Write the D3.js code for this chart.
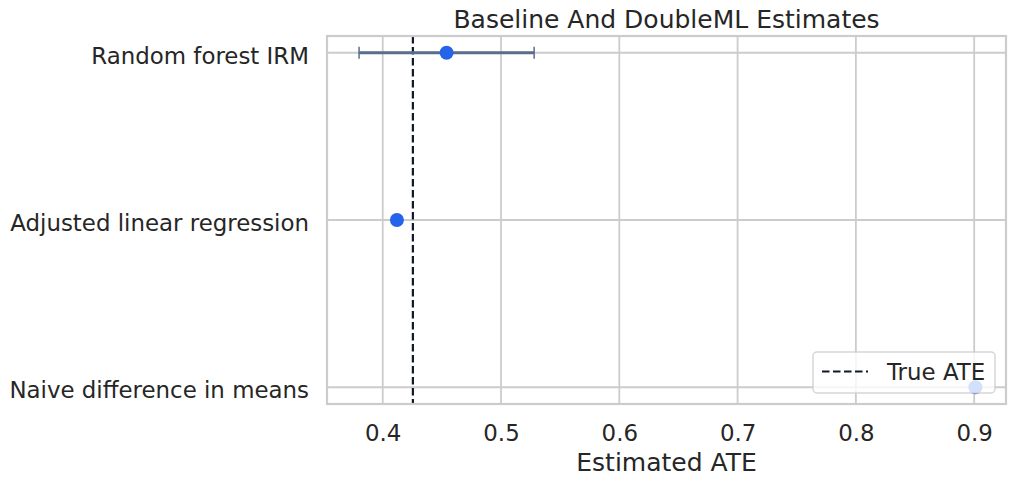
<!DOCTYPE html>
<html><head><meta charset="utf-8">
<script src="https://cdn.jsdelivr.net/npm/d3@7"></script>
<style>
html,body{margin:0;padding:0;background:#fff;}
text{font-family:"DejaVu Sans",sans-serif;fill:#262626;}
</style></head>
<body>
<svg id="chart" width="1016" height="485"></svg>
<script>
const methods = ["Random forest IRM", "Adjusted linear regression", "Naive difference in means"];
const estimates = [0.454, 0.412, 0.901];
const ciLower = [0.380, null, null];
const ciUpper = [0.528, null, null];
const trueATE = 0.4255;
const xTicks = [0.4, 0.5, 0.6, 0.7, 0.8, 0.9];
const xDomain = [0.3529, 0.9269];

const svg = d3.select("#chart");
const L = 327, R = 1006, T = 36, B = 404;
const x = d3.scaleLinear().domain(xDomain).range([L, R]);
const y = d3.scalePoint().domain(methods).range([T, B]).padding(0.1);
const grid = "#cccccc";

// gridlines
svg.append("g").selectAll("line").data(xTicks).join("line")
  .attr("x1", d => x(d)).attr("x2", d => x(d)).attr("y1", T).attr("y2", B)
  .attr("stroke", grid).attr("stroke-width", 1.8);
svg.append("g").selectAll("line").data(methods).join("line")
  .attr("x1", L).attr("x2", R).attr("y1", d => y(d)).attr("y2", d => y(d))
  .attr("stroke", grid).attr("stroke-width", 1.8);

// x axis labels via d3 axis
const xAxis = d3.axisBottom(x).tickValues(xTicks).tickFormat(d3.format(".1f")).tickSize(0).tickPadding(0);
const gx = svg.append("g").attr("transform", `translate(0,${B})`).call(xAxis);
gx.select(".domain").remove();
gx.selectAll("text").attr("dy", null).attr("y", 36.7)
  .style("font-size", "22.9px").style("font-family", "DejaVu Sans").attr("fill", "#262626");

const yAxis = d3.axisLeft(y).tickSize(0).tickPadding(0);
const gy = svg.append("g").attr("transform", `translate(${L},0)`).call(yAxis);
gy.select(".domain").remove();
gy.selectAll("text").attr("x", -18).attr("dy", "0.46em")
  .style("font-size", "22.9px").style("font-family", "DejaVu Sans").attr("fill", "#262626");

// true ATE line
svg.append("line").attr("x1", x(trueATE)).attr("x2", x(trueATE)).attr("y1", T).attr("y2", B)
  .attr("stroke", "#111827").attr("stroke-width", 2.2).attr("stroke-dasharray", "7.5,3.5");

// error bars
const ebColor = "#5a6d8c";
const eb = methods.map((m, i) => ({m, lo: ciLower[i], hi: ciUpper[i]})).filter(d => d.lo !== null);
svg.append("g").selectAll("line").data(eb).join("line")
  .attr("x1", d => x(d.lo)).attr("x2", d => x(d.hi)).attr("y1", d => y(d.m)).attr("y2", d => y(d.m))
  .attr("stroke", ebColor).attr("stroke-width", 3);
const caps = eb.flatMap(d => [{m: d.m, v: d.lo}, {m: d.m, v: d.hi}]);
svg.append("g").selectAll("line").data(caps).join("line")
  .attr("x1", d => x(d.v)).attr("x2", d => x(d.v)).attr("y1", d => y(d.m) - 6).attr("y2", d => y(d.m) + 6)
  .attr("stroke", ebColor).attr("stroke-width", 1.5);

// points
svg.append("g").selectAll("circle").data(methods).join("circle")
  .attr("cx", (d, i) => x(estimates[i])).attr("cy", d => y(d)).attr("r", 7)
  .attr("fill", "#2563eb");

// frame
svg.append("rect").attr("x", L).attr("y", T).attr("width", R - L).attr("height", B - T)
  .attr("fill", "none").attr("stroke", grid).attr("stroke-width", 2.2);

// title & label
svg.append("text").attr("x", (L + R) / 2).attr("y", 28.3).attr("text-anchor", "middle")
  .style("font-size", "25px").text("Baseline And DoubleML Estimates");
svg.append("text").attr("x", (L + R) / 2).attr("y", 471).attr("text-anchor", "middle")
  .style("font-size", "25px").text("Estimated ATE");

// legend
const lg = svg.append("g");
lg.append("rect").attr("x", 813).attr("y", 352).attr("width", 182).attr("height", 41).attr("rx", 4)
  .attr("fill", "#ffffff").attr("fill-opacity", 0.8).attr("stroke", "#cccccc").attr("stroke-opacity", 0.8).attr("stroke-width", 1.5);
lg.append("line").attr("x1", 822).attr("x2", 868).attr("y1", 371.5).attr("y2", 371.5)
  .attr("stroke", "#111827").attr("stroke-width", 2.2).attr("stroke-dasharray", "7.5,3.5");
lg.append("text").attr("x", 887).attr("y", 379.5).style("font-size", "22.9px").text("True ATE");
</script>
</body></html>
